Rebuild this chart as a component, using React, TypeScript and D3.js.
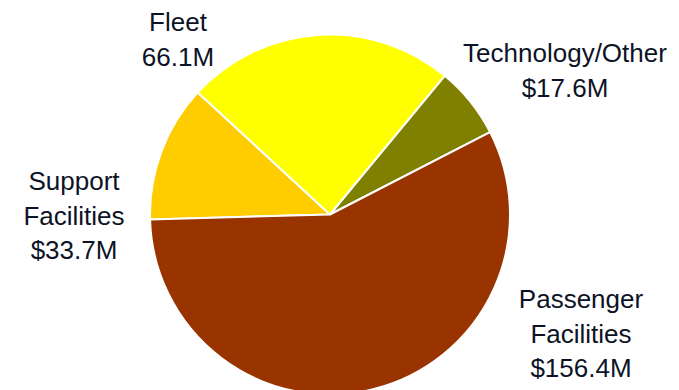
import React from "react";
import * as d3 from "d3";

const categories = ["Support Facilities", "Fleet", "Technology/Other", "Passenger Facilities"];
const values = [33.7, 66.1, 17.6, 156.4];
const colors = ["#FFCC00", "#FFFF00", "#808000", "#993300"];
const labelLines = [
  ["Support", "Facilities", "$33.7M"],
  ["Fleet", "66.1M"],
  ["Technology/Other", "$17.6M"],
  ["Passenger", "Facilities", "$156.4M"],
];
const labelPos = [
  [74, 190],
  [178, 31],
  [565, 62],
  [581, 308],
];

export default function App() {
  const W = 679, H = 390;
  const cx = 330, cy = 214.5, r = 180;
  const start = (-91.6 * Math.PI) / 180;
  const pie = d3.pie<number>().sort(null).value((d) => d)
    .startAngle(start).endAngle(start + 2 * Math.PI);
  const arcs = pie(values);
  const arc = d3.arc<d3.PieArcDatum<number>>().innerRadius(0).outerRadius(r);
  return (
    <svg width={W} height={H} style={{ position: "absolute", left: 0, top: 0 }}>
      <rect width={W} height={H} fill="#fff" />
      <g transform={`translate(${cx},${cy})`}>
        {arcs.map((a, i) => (
          <path key={categories[i]} d={arc(a) || ""} fill={colors[i]} stroke="#fff" strokeWidth={2} strokeLinejoin="round" />
        ))}
      </g>
      {labelLines.map((lines, i) => (
        <text key={i} x={labelPos[i][0]} y={labelPos[i][1]} textAnchor="middle"
          fontFamily="'Liberation Sans', Arial, sans-serif" fontSize={26} fill="#0d1326">
          {lines.map((l, j) => (
            <tspan key={j} x={labelPos[i][0]} dy={j === 0 ? 0 : 34.5}>{l}</tspan>
          ))}
        </text>
      ))}
    </svg>
  );
}
